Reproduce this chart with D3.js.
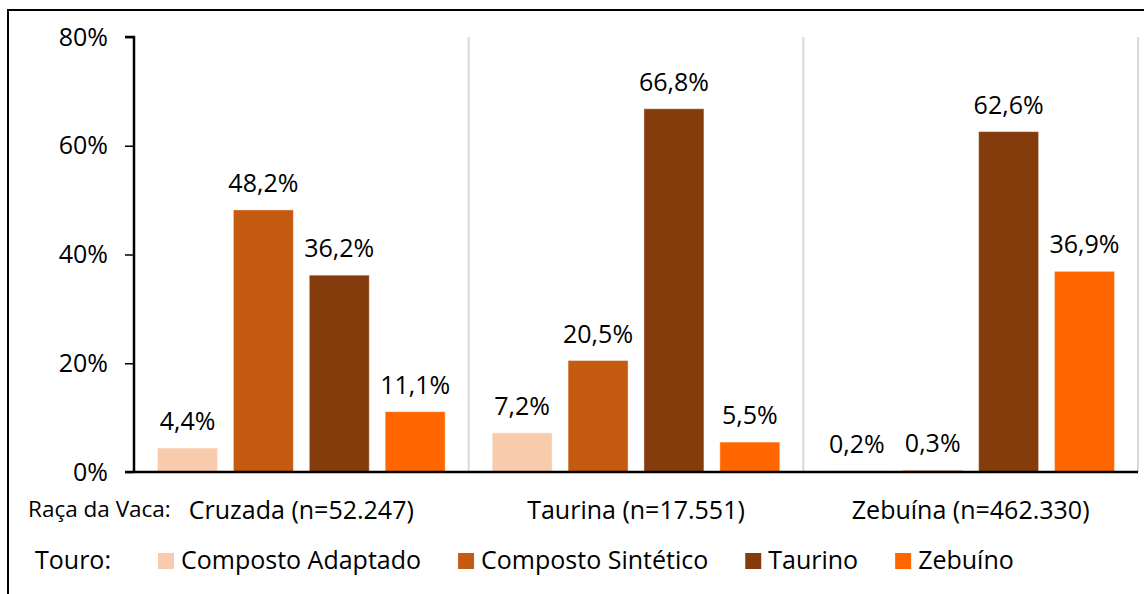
<!DOCTYPE html>
<html>
<head>
<meta charset="utf-8">
<script src="https://cdn.jsdelivr.net/npm/d3@7"></script>
<style>
  body { margin: 0; background: #fff; }
  svg { display: block; font-family: "Open Sans", sans-serif; }
</style>
</head>
<body>
<svg id="chart" width="1144" height="594"></svg>
<script>
const categories = ["Cruzada (n=52.247)", "Taurina (n=17.551)", "Zebuína (n=462.330)"];
const seriesNames = ["Composto Adaptado", "Composto Sintético", "Taurino", "Zebuíno"];
const compostoAdaptado = [4.4, 7.2, 0.2];
const compostoSintetico = [48.2, 20.5, 0.3];
const taurino = [36.2, 66.8, 62.6];
const zebuino = [11.1, 5.5, 36.9];
const yTicks = [0, 20, 40, 60, 80];
const colors = ["#F8CBAD", "#C55A11", "#843C0C", "#FF6600"];

const values = [compostoAdaptado, compostoSintetico, taurino, zebuino];
const rows = categories.map((c, i) => ({
    category: c,
    bars: seriesNames.map((s, j) => ({ series: s, value: values[j][i] }))
}));

const svg = d3.select("#chart");
const margin = { left: 134, right: 1138, top: 37, bottom: 472 };

// outer frame (right and bottom run past the picture)
svg.append("rect")
    .attr("x", 8).attr("y", 10)
    .attr("width", 1150).attr("height", 600)
    .attr("fill", "none").attr("stroke", "#000").attr("stroke-width", 2);

const x0 = d3.scaleBand()
    .domain(categories)
    .range([margin.left, margin.right])
    .padding(0);

const x1 = d3.scaleBand()
    .domain(seriesNames)
    .range([0, x0.bandwidth()])
    .paddingInner(0.21)
    .paddingOuter(0.31);

const y = d3.scaleLinear()
    .domain([0, 80])
    .range([margin.bottom, margin.top]);

const fmt = v => d3.format(".1f")(v).replace(".", ",") + "%";

// group separators
svg.append("g")
    .selectAll("line")
    .data(categories)
    .join("line")
    .attr("x1", d => x0(d) + x0.bandwidth())
    .attr("x2", d => x0(d) + x0.bandwidth())
    .attr("y1", y(80))
    .attr("y2", y(0))
    .attr("stroke", "#D9D9D9")
    .attr("stroke-width", 2);

// bars
const groups = svg.append("g")
    .selectAll("g")
    .data(rows)
    .join("g")
    .attr("transform", d => `translate(${x0(d.category)},0)`);

groups.selectAll("rect")
    .data(d => d.bars)
    .join("rect")
    .attr("x", d => x1(d.series))
    .attr("width", x1.bandwidth())
    .attr("y", d => y(d.value))
    .attr("height", d => y(0) - y(d.value))
    .attr("fill", (d, i) => colors[i])
    .attr("stroke", "#fff")
    .attr("stroke-opacity", 0.4)
    .attr("stroke-width", 1);

groups.selectAll("text")
    .data(d => d.bars)
    .join("text")
    .attr("x", d => x1(d.series) + x1.bandwidth() / 2)
    .attr("y", d => y(d.value) - 18)
    .attr("text-anchor", "middle")
    .attr("font-size", 25)
    .attr("fill", "#000")
    .text(d => fmt(d.value));

// y axis
const yAxis = svg.append("g")
    .attr("transform", `translate(${margin.left},0)`)
    .call(d3.axisLeft(y).tickValues(yTicks).tickSize(9).tickPadding(17).tickFormat(d => d + "%"));
yAxis.select(".domain").attr("stroke-width", 2.5).attr("d", `M-9,${y(80)}H0V${y(0)}`);
yAxis.selectAll(".tick line").attr("stroke-width", 1.5);
yAxis.selectAll(".tick text")
    .attr("font-family", "Open Sans")
    .attr("font-size", 25)
    .attr("fill", "#000");

// x axis line
svg.append("line")
    .attr("x1", margin.left - 9).attr("x2", margin.right)
    .attr("y1", y(0)).attr("y2", y(0))
    .attr("stroke", "#000").attr("stroke-width", 2.5);

// category labels
svg.append("g")
    .selectAll("text")
    .data(categories)
    .join("text")
    .attr("x", d => x0(d) + x0.bandwidth() / 2)
    .attr("y", 519)
    .attr("text-anchor", "middle")
    .attr("font-size", 25)
    .text(d => d);

svg.append("text")
    .attr("x", 28).attr("y", 517)
    .attr("font-size", 22.5)
    .text("Raça da Vaca:");

// legend
svg.append("text")
    .attr("x", 35).attr("y", 569)
    .attr("font-size", 25)
    .text("Touro:");

let lx = 158;
seriesNames.forEach((s, i) => {
    svg.append("rect")
        .attr("x", lx).attr("y", 553)
        .attr("width", 16).attr("height", 16)
        .attr("fill", colors[i]);
    const t = svg.append("text")
        .attr("x", lx + 23).attr("y", 569)
        .attr("font-size", 25)
        .text(s);
    lx += 23 + t.node().getComputedTextLength() + 37;
});
</script>
</body>
</html>
